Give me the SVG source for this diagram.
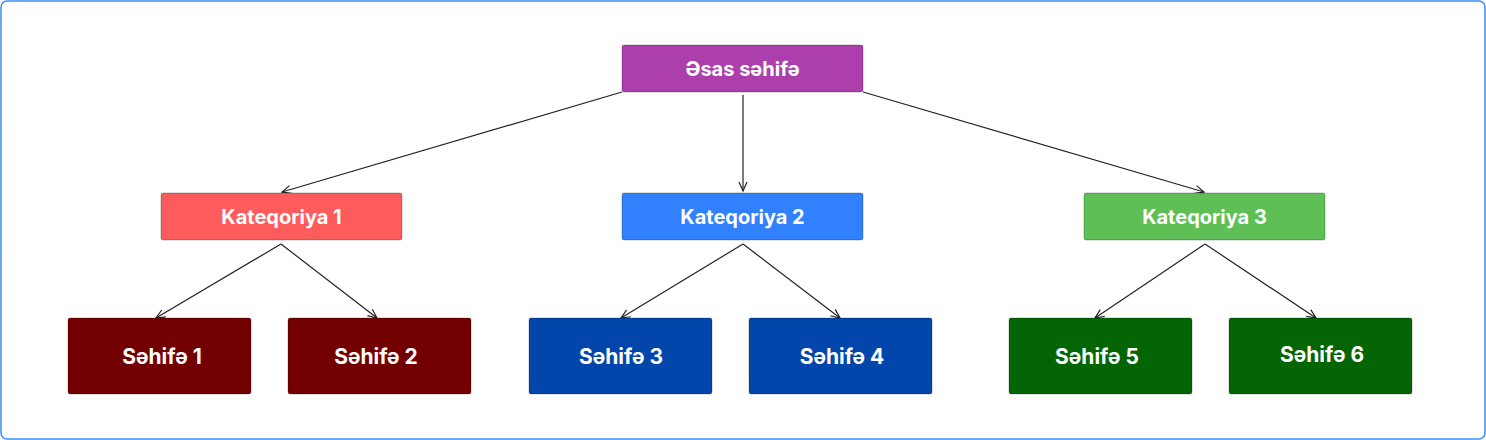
<svg xmlns="http://www.w3.org/2000/svg" width="1486" height="440" viewBox="0 0 1486 440">
<defs>
<marker id="ah" markerWidth="12" markerHeight="10" refX="10" refY="5" orient="auto" markerUnits="userSpaceOnUse">
<path d="M1,1 L10,5 L1,9" fill="none" stroke="#222" stroke-width="1.2"/>
</marker>
<style>
.n{stroke:rgba(0,0,0,0.25);stroke-width:1}
.t{font-family:Inter,"Noto Sans",sans-serif;font-weight:700;fill:#fff;text-anchor:middle;dominant-baseline:central}
.c{font-size:20px}
.p{font-size:21px}
.e{stroke:#222;stroke-width:1.2;fill:none;marker-end:url(#ah)}
</style>
</defs>
<rect x="1" y="1" width="1484" height="438" rx="6" fill="#fff" stroke="#3b8cf5" stroke-width="1.5"/>
<g id="connectors">
<line class="e" x1="622" y1="92" x2="282" y2="192"/>
<line class="e" x1="743" y1="95" x2="743" y2="191"/>
<line class="e" x1="863" y1="92" x2="1204" y2="192"/>
<line class="e" x1="281" y1="244" x2="156" y2="318"/>
<line class="e" x1="281" y1="244" x2="377" y2="318"/>
<line class="e" x1="743" y1="244" x2="621" y2="318"/>
<line class="e" x1="743" y1="244" x2="840" y2="318"/>
<line class="e" x1="1205" y1="244" x2="1095" y2="318"/>
<line class="e" x1="1205" y1="244" x2="1316" y2="318"/>
</g>
<g id="root"><rect class="n" x="622" y="45" width="241" height="47" rx="2" fill="#ac3fac"/><text class="t c" x="742.5" y="69">Əsas səhifə</text></g>
<g id="cat1"><rect class="n" x="161" y="193" width="241" height="47" rx="2" fill="#fe5c5c"/><text class="t c" x="281.5" y="217">Kateqoriya 1</text></g>
<g id="cat2"><rect class="n" x="622" y="193" width="241" height="47" rx="2" fill="#3180fd"/><text class="t c" x="742.5" y="217">Kateqoriya 2</text></g>
<g id="cat3"><rect class="n" x="1084" y="193" width="241" height="47" rx="2" fill="#5dbf55"/><text class="t c" x="1204.5" y="217">Kateqoriya 3</text></g>
<g id="p1"><rect class="n" x="68" y="318" width="183" height="76" rx="2" fill="#730000"/><text class="t p" x="162" y="356">Səhifə 1</text></g>
<g id="p2"><rect class="n" x="288" y="318" width="183" height="76" rx="2" fill="#730000"/><text class="t p" x="376" y="356">Səhifə 2</text></g>
<g id="p3"><rect class="n" x="529" y="318" width="183" height="76" rx="2" fill="#0246ab"/><text class="t p" x="621" y="356">Səhifə 3</text></g>
<g id="p4"><rect class="n" x="749" y="318" width="183" height="76" rx="2" fill="#0246ab"/><text class="t p" x="842" y="356">Səhifə 4</text></g>
<g id="p5"><rect class="n" x="1009" y="318" width="183" height="76" rx="2" fill="#046505"/><text class="t p" x="1097" y="356">Səhifə 5</text></g>
<g id="p6"><rect class="n" x="1229" y="318" width="183" height="76" rx="2" fill="#046505"/><text class="t p" x="1322" y="354">Səhifə 6</text></g>
</svg>
